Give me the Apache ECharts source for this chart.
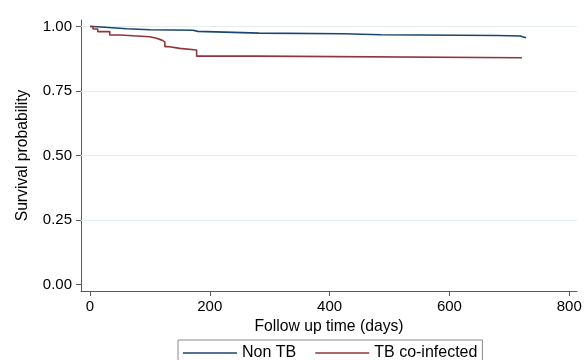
<!DOCTYPE html>
<html>
<head>
<meta charset="utf-8">
<script src="https://cdn.jsdelivr.net/npm/echarts@6/dist/echarts.min.js"></script>
<style>
html,body{margin:0;padding:0;background:#fff;}
#chart{width:585px;height:360px;}
</style>
</head>
<body>
<div id="chart"></div>
<script>
// Kaplan-Meier step data: [time (days), survival probability after event]
var nonTbTime = [0, 5, 25, 61, 100, 172, 180, 239, 282, 422, 486, 680, 718, 728];
var nonTbSurv = [1.0, 0.997, 0.991, 0.987, 0.985, 0.981, 0.977, 0.974, 0.972, 0.968, 0.965, 0.963, 0.956, 0.956];
var tbTime = [0, 5, 13, 33, 50, 100, 111, 120, 125, 130, 150, 178, 277, 721];
var tbSurv = [1.0, 0.99, 0.98, 0.967, 0.96, 0.954, 0.947, 0.94, 0.922, 0.915, 0.909, 0.885, 0.879, 0.879];
var xTicks = [0, 200, 400, 600, 800];
var yTicks = [0, 0.25, 0.5, 0.75, 1.0];
var gridYs = [0.25, 0.5, 0.75, 1.0];
var seriesNames = ['Non TB', 'TB co-infected'];

function pairs(t, s) { return t.map(function (v, i) { return [v, s[i]]; }); }

var chart = echarts.init(document.getElementById('chart'), null, {renderer: 'canvas'});
var font = 'Liberation Sans, Arial, Helvetica, sans-serif';
var axisCol = '#5a5a5a';
chart.setOption({
  animation: false,
  backgroundColor: '#ffffff',
  grid: {left: 81, right: 8, top: 20, bottom: 69, containLabel: false},
  xAxis: {
    type: 'value', min: -15, max: 813,
    name: 'Follow up time (days)', nameLocation: 'middle', nameGap: 20,
    nameTextStyle: {fontFamily: font, fontSize: 15.7, color: '#000'},
    axisLine: {show: true, onZero: false, lineStyle: {color: axisCol, width: 1}},
    axisTick: {show: true, customValues: xTicks, length: 5, lineStyle: {color: axisCol}},
    axisLabel: {customValues: xTicks, fontFamily: font, fontSize: 15, color: '#000', margin: 8, showMinLabel: true, showMaxLabel: true},
    splitLine: {show: false}
  },
  yAxis: {
    type: 'value', min: -0.025, max: 1.025,
    name: 'Survival probability', nameLocation: 'middle', nameGap: 50,
    nameTextStyle: {fontFamily: font, fontSize: 15.7, color: '#000'},
    axisLine: {show: true, onZero: false, lineStyle: {color: axisCol, width: 1}},
    axisTick: {show: true, customValues: yTicks, length: 5, lineStyle: {color: axisCol}},
    axisLabel: {customValues: yTicks, fontFamily: font, fontSize: 15, color: '#000', margin: 9,
      formatter: function (v) { return v.toFixed(2); }},
    splitLine: {show: false}
  },
  legend: {
    data: seriesNames,
    left: 178, top: 340,
    orient: 'horizontal',
    icon: 'rect',
    itemWidth: 54, itemHeight: 1.6, itemGap: 19,
    padding: [5, 5, 10, 5],
    borderColor: '#8a8a8a', borderWidth: 1, borderRadius: 0,
    textStyle: {fontFamily: font, fontSize: 16, color: '#000'}
  },
  series: [
    {
      name: seriesNames[0], type: 'line', step: 'end', symbol: 'none', showSymbol: false,
      data: pairs(nonTbTime, nonTbSurv),
      lineStyle: {color: '#1a476f', width: 1.6},
      itemStyle: {color: '#1a476f'},
      z: 3,
      markLine: {
        silent: true, symbol: 'none', label: {show: false},
        lineStyle: {color: '#e4eef0', width: 1, type: 'solid'},
        data: gridYs.map(function (v) { return {yAxis: v}; }),
        z: 1
      }
    },
    {
      name: seriesNames[1], type: 'line', step: 'end', symbol: 'none', showSymbol: false,
      data: pairs(tbTime, tbSurv),
      lineStyle: {color: '#90353b', width: 1.6},
      itemStyle: {color: '#90353b'},
      z: 3
    }
  ]
});
</script>
</body>
</html>
